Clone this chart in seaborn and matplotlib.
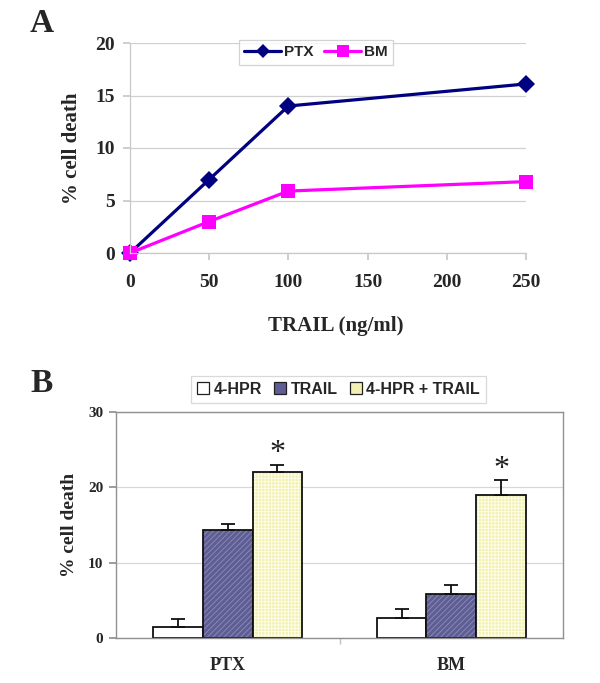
import numpy as np
import pandas as pd
import matplotlib
matplotlib.use("Agg")
import matplotlib.pyplot as plt
import seaborn as sns
from matplotlib.lines import Line2D
from matplotlib.patches import Patch

# ---- data panel A ----
trail_dose = [0, 50, 100, 250]
ptx_death = [0, 7.0, 14.0, 16.1]
bm_death = [0, 3.0, 5.9, 6.8]
line_series = ["PTX", "BM"]

# ---- data panel B ----
cell_lines = ["PTX", "BM"]
treatments = ["4-HPR", "TRAIL", "4-HPR + TRAIL"]
hpr_vals = [1.5, 2.7]
trail_vals = [14.3, 5.9]
combo_vals = [22.0, 19.0]
hpr_err = [1.0, 1.2]
trail_err = [0.8, 1.1]
combo_err = [1.0, 2.0]
significant = [True, True]

sns.set_theme(style="white")
plt.rcParams['font.family'] = ['Liberation Serif', 'DejaVu Serif']
plt.rcParams['hatch.linewidth'] = 0.6

fig = plt.figure(figsize=(6, 6.83), dpi=100)

# ================= Panel A =================
axA = fig.add_axes([130/600, 1-253/683, 396/600, 210/683])
dfA = pd.DataFrame({
    "dose": trail_dose * 2,
    "death": ptx_death + bm_death,
    "line": ["PTX"] * len(trail_dose) + ["BM"] * len(trail_dose),
})
colA = {"PTX": "#000080", "BM": "#FF00FF"}
mk = {"PTX": "D", "BM": "s"}
sns.lineplot(data=dfA, x="dose", y="death", hue="line", style="line",
             palette=colA, markers=mk, dashes=False, linewidth=2.3,
             markeredgewidth=0, ax=axA, legend=False)
for ln in axA.lines:
    ln.set_clip_on(False)
    if ln.get_marker() == "D":
        ln.set_markersize(9)
    else:
        ln.set_markersize(10.5)

axA.set_xlim(0, 250)
axA.set_ylim(0, 20)
axA.set_xticks([0, 50, 100, 150, 200, 250])
axA.set_yticks([0, 5, 10, 15, 20])
axA.grid(axis="y", color="#d0d0d0", linewidth=0.9)
axA.set_axisbelow(True)
for s in ["top", "right"]:
    axA.spines[s].set_visible(False)
for s in ["left", "bottom"]:
    axA.spines[s].set_color("#c8c8c8")
    axA.spines[s].set_linewidth(0.9)
axA.tick_params(axis="both", which="major", length=5, color="#c8c8c8",
                direction="out", left=True, bottom=True, labelsize=14, pad=6)
axA.tick_params(axis="x", pad=10)
for lab in axA.get_xticklabels() + axA.get_yticklabels():
    lab.set_fontweight("bold")
axA.set_xlabel("")
axA.set_ylabel("")

handlesA = [Line2D([], [], color=colA[k], marker=mk[k], lw=2.3,
                   markersize=7 if k == "PTX" else 8, markeredgewidth=0)
            for k in line_series]
legA = axA.legend(handlesA, line_series, ncol=2, loc="center",
                  bbox_to_anchor=(0.47, 0.955), frameon=True, fancybox=False,
                  handlelength=2.4, handletextpad=0.2, columnspacing=0.7,
                  borderpad=0.35,
                  prop={"family": "Liberation Sans", "weight": "bold", "size": 11})
legA.get_frame().set_edgecolor("#c8c8c8")
legA.get_frame().set_linewidth(0.9)

fig.text(72/600, 1-148/683, "% cell death", rotation=90, ha="center",
         va="center", fontsize=15, fontweight="bold")
fig.text(336/600, 1-326/683, "TRAIL (ng/ml)", ha="center", va="center",
         fontsize=15, fontweight="bold")
fig.text(42/600, 1-23/683, "A", ha="center", va="center", fontsize=24,
         fontweight="bold")

# ================= Panel B =================
axB = fig.add_axes([116/600, 1-638/683, 447/600, 226/683])
dfB = pd.DataFrame({
    "cell": cell_lines * 3,
    "treat": [treatments[0]] * 2 + [treatments[1]] * 2 + [treatments[2]] * 2,
    "val": hpr_vals + trail_vals + combo_vals,
})
colB = {"4-HPR": "#FFFFFF", "TRAIL": "#5E5E92", "4-HPR + TRAIL": "#F2F0B4"}
sns.barplot(data=dfB, x="cell", y="val", hue="treat", order=cell_lines,
            hue_order=treatments, palette=colB, width=0.667, gap=0,
            edgecolor="#101010", linewidth=1.3, saturation=1, errorbar=None,
            ax=axB, legend=False)

hatches = {"4-HPR": None, "TRAIL": "//////", "4-HPR + TRAIL": "+++++"}
hatch_cols = {"TRAIL": (0.55, 0.55, 0.75, 1.0),
              "4-HPR + TRAIL": (1.0, 1.0, 0.93, 1.0)}
errs = {"4-HPR": hpr_err, "TRAIL": trail_err, "4-HPR + TRAIL": combo_err}
vals = {"4-HPR": hpr_vals, "TRAIL": trail_vals, "4-HPR + TRAIL": combo_vals}
for t, cont in zip(treatments, axB.containers):
    xs = []
    for p in cont.patches:
        xs.append(p.get_x() + p.get_width() / 2)
        if hatches[t]:
            p.set_hatch(hatches[t])
            p._hatch_color = hatch_cols[t]
    axB.errorbar(xs, vals[t], yerr=[np.zeros(len(xs)), errs[t]], fmt="none",
                 ecolor="#101010", elinewidth=1.3, capsize=5, capthick=1.3,
                 zorder=5)
    if t == "4-HPR + TRAIL":
        for x, v, e, sig in zip(xs, vals[t], errs[t], significant):
            if sig:
                axB.text(x, v + e - 0.5, "*", ha="center", va="bottom",
                         fontsize=23, color="#202020")

axB.set_xlim(-0.5, 1.5)
axB.set_ylim(0, 30)
axB.set_yticks([0, 10, 20, 30])
axB.grid(axis="y", color="#d8d8d8", linewidth=0.9)
axB.set_axisbelow(True)
for s in axB.spines.values():
    s.set_color("#909090")
    s.set_linewidth(1.0)
axB.tick_params(axis="y", length=5, color="#909090", direction="out",
                left=True, labelsize=11, pad=4)
axB.tick_params(axis="x", which="major", length=0, labelsize=13, pad=14)
axB.set_xticks([0.5], minor=True)
axB.tick_params(axis="x", which="minor", length=4, color="#c0c0c0",
                direction="out", bottom=True)
for lab in axB.get_xticklabels() + axB.get_yticklabels():
    lab.set_fontweight("bold")
axB.set_xlabel("")
axB.set_ylabel("")

handlesB = [Patch(facecolor=colB[t], edgecolor="#202020", linewidth=0.9)
            for t in treatments]
legB = axB.legend(handlesB, treatments, ncol=3, loc="center",
                  bbox_to_anchor=(0.498, 1.10), frameon=True, fancybox=False,
                  handlelength=0.75, handleheight=0.75, handletextpad=0.25,
                  columnspacing=0.8, borderpad=0.4,
                  prop={"family": "Liberation Sans", "weight": "bold", "size": 11.5})
legB.get_frame().set_edgecolor("#d0d0d0")
legB.get_frame().set_linewidth(0.9)

fig.text(70/600, 1-525/683, "% cell death", rotation=90, ha="center",
         va="center", fontsize=14, fontweight="bold")
fig.text(42/600, 1-383/683, "B", ha="center", va="center", fontsize=24,
         fontweight="bold")

fig.savefig("out.png", dpi=100, facecolor="white")
